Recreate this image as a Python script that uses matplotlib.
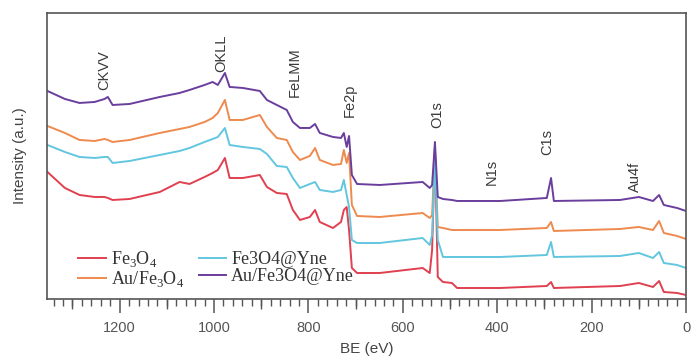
import matplotlib
matplotlib.use("Agg")
import matplotlib.pyplot as plt
from matplotlib.ticker import MultipleLocator

plt.rcParams['font.family'] = ['Liberation Sans', 'DejaVu Sans']
plt.rcParams['mathtext.fontset'] = 'custom'
plt.rcParams['mathtext.rm'] = 'Liberation Serif'

# Binding energy grid (eV)
be = [1353, 1316, 1285, 1253, 1232, 1225, 1215, 1179, 1115, 1073, 1052, 1020, 1003, 992,
      977, 967, 939, 903, 888, 867, 846, 833, 818, 797, 786, 776, 748, 731, 725, 719,
      714, 708, 697, 649, 558, 543, 538, 532, 526, 515, 496, 485, 394, 295, 286, 280,
      140, 100, 70, 57, 47, 19, 0]

# Intensities (a.u., stacked offsets as in the figure)
fe3o4 = [127, 111, 104, 102, 102, 101, 99, 100, 107, 117, 115, 122, 126, 129,
         141, 121, 121, 124, 112, 106, 105, 89, 79, 82, 89, 77, 71, 77, 89, 92,
         69, 31, 26, 26, 31, 26, 49, 151, 22, 17, 16, 11, 11, 13, 17, 11,
         13, 16, 12, 18, 7, 6, 4]
au_fe3o4 = [173, 166, 159, 158, 160, 159, 157, 159, 166, 170, 172, 177, 181, 186,
            199, 179, 179, 184, 172, 161, 159, 147, 139, 143, 151, 139, 134, 135, 149, 136,
            146, 94, 83, 82, 86, 81, 84, 149, 72, 71, 69, 69, 69, 71, 77, 68,
            70, 72, 69, 78, 66, 63, 60]
fe3o4_yne = [154, 147, 142, 141, 142, 142, 136, 138, 144, 148, 151, 157, 160, 162,
             171, 154, 152, 150, 145, 133, 132, 121, 111, 115, 117, 109, 107, 109, 119, 104,
             92, 59, 56, 56, 61, 54, 64, 139, 59, 42, 42, 42, 42, 44, 57, 42,
             43, 46, 41, 47, 36, 34, 31]
au_fe3o4_yne = [208, 200, 196, 197, 200, 202, 194, 195, 202, 206, 209, 214, 217, 214,
                226, 212, 211, 208, 199, 194, 189, 177, 171, 171, 175, 166, 162, 161, 166, 152,
                163, 124, 115, 114, 117, 111, 114, 157, 102, 100, 99, 98, 98, 101, 121, 98,
                99, 102, 98, 104, 94, 91, 88]

series_labels = [r'Fe$_\mathregular{3}$O$_\mathregular{4}$',
                 r'Au/Fe$_\mathregular{3}$O$_\mathregular{4}$',
                 'Fe3O4@Yne', 'Au/Fe3O4@Yne']
colors = ['#e0404f', '#ee8a4e', '#62c6df', '#6a3e9c']

peak_names = ['CKVV', 'OKLL', 'FeLMM', 'Fe2p', 'O1s', 'N1s', 'C1s', 'Au4f']
peak_x = [1232, 984, 829, 712, 528, 411, 295, 108]
peak_y = [209, 227, 202, 182, 171, 114, 144, 107]

fig = plt.figure(figsize=(6.91, 3.58), dpi=100)
ax = fig.add_axes([0.0673, 0.1648, 0.9255, 0.799])

for ys, lab, c in zip([fe3o4, au_fe3o4, fe3o4_yne, au_fe3o4_yne], series_labels, colors):
    ax.plot(be, ys, color=c, lw=1.4, label=lab)

for name, px, py in zip(peak_names, peak_x, peak_y):
    ax.text(px, py, name, rotation=90, ha='center', va='bottom', fontsize=10.5, color='#3a3a3a')

ax.set_xlim(1355, 0)
ax.set_ylim(0, 286)
ax.set_yticks([])
ax.xaxis.set_major_locator(MultipleLocator(200))
ax.xaxis.set_minor_locator(MultipleLocator(20))
ax.tick_params(axis='x', which='major', length=10, width=1.1, color='#555555',
               labelsize=10.5, labelcolor='#555555', pad=6)
ax.tick_params(axis='x', which='minor', length=5, width=1.0, color='#555555')

sec = ax.secondary_xaxis('bottom')
sec.set_xticks(list(range(100, 1400, 200)))
sec.set_xticklabels([])
sec.tick_params(length=7, width=1.0, color='#555555')
sec.spines['bottom'].set_visible(False)

for s in ax.spines.values():
    s.set_color('#555555')
    s.set_linewidth(1.2)

ax.set_xlabel('BE (eV)', fontsize=11, color='#444444', labelpad=5)
ax.set_ylabel('Intensity (a.u.)', fontsize=11, color='#444444', labelpad=14)

leg = ax.legend(ncol=2, loc='lower left', bbox_to_anchor=(0.05, 0.035), frameon=False,
                prop={'family': 'Liberation Serif', 'size': 13}, handlelength=1.5,
                handletextpad=0.3, columnspacing=0.8, labelspacing=0.0, borderpad=0,
                borderaxespad=0)
for t in leg.get_texts():
    t.set_color('#333333')

fig.savefig('out.png', dpi=100)
